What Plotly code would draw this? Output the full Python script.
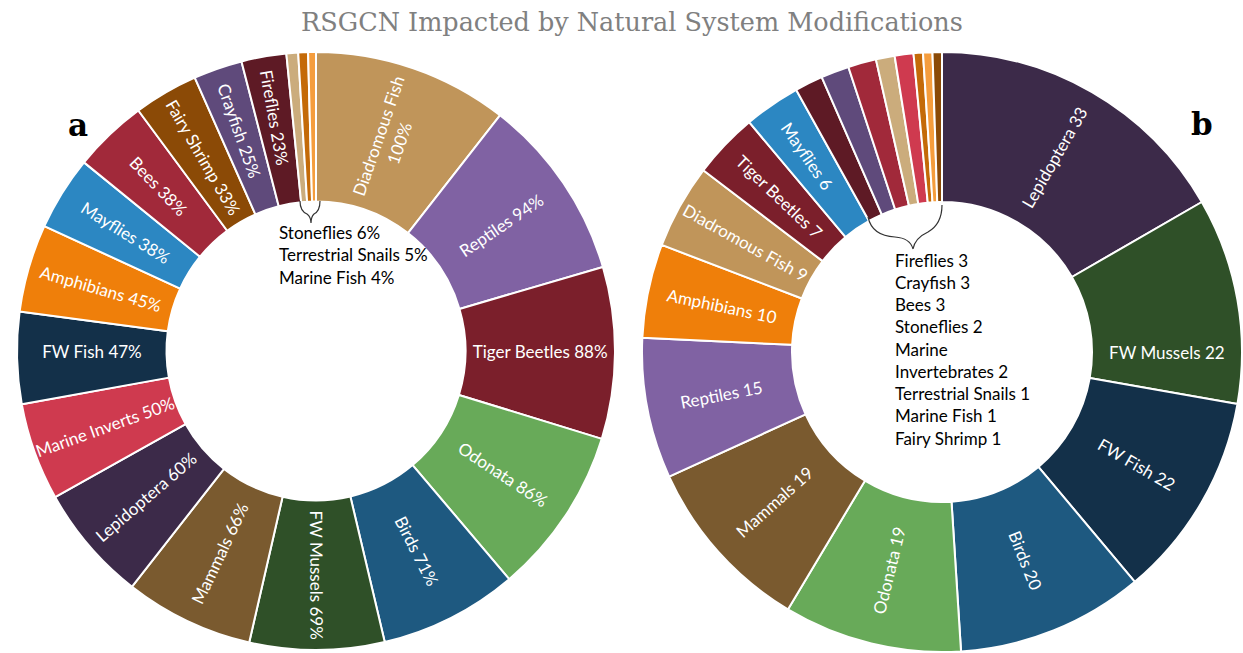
import plotly.graph_objects as go

W, H = 1243, 653

# ---- data ----
left_labels = ["Diadromous Fish", "Reptiles", "Tiger Beetles", "Odonata", "Birds",
               "FW Mussels", "Mammals", "Lepidoptera", "Marine Inverts", "FW Fish",
               "Amphibians", "Mayflies", "Bees", "Fairy Shrimp", "Crayfish",
               "Fireflies", "Stoneflies", "Terrestrial Snails", "Marine Fish"]
left_values = [100, 94, 88, 86, 71, 69, 66, 60, 50, 47, 45, 38, 38, 33, 25, 23, 6, 5, 4]

right_labels = ["Lepidoptera", "FW Mussels", "FW Fish", "Birds", "Odonata", "Mammals",
                "Reptiles", "Amphibians", "Diadromous Fish", "Tiger Beetles", "Mayflies",
                "Fireflies", "Crayfish", "Bees", "Stoneflies", "Marine Invertebrates",
                "Terrestrial Snails", "Marine Fish", "Fairy Shrimp"]
right_values = [33, 22, 22, 20, 19, 19, 15, 10, 9, 7, 6, 3, 3, 3, 2, 2, 1, 1, 1]

category_colors = {
    "Diadromous Fish": "#C0955A", "Reptiles": "#8062A3", "Tiger Beetles": "#7B1F2B",
    "Odonata": "#68AA59", "Birds": "#1E5980", "FW Mussels": "#2F5028",
    "Mammals": "#7A5A2F", "Lepidoptera": "#3C2A49", "Marine Inverts": "#CF3A4F",
    "Marine Invertebrates": "#CF3A4F", "FW Fish": "#133049", "Amphibians": "#EF7F0A",
    "Mayflies": "#2C87C2", "Bees": "#A1293A", "Fairy Shrimp": "#8B4A06",
    "Crayfish": "#5F4A7B", "Fireflies": "#5E1A25", "Stoneflies": "#CBAC7C",
    "Terrestrial Snails": "#C46A08", "Marine Fish": "#F59D3D",
}

left_label_min = 23   # slices at or above this value carry an inside label
right_label_min = 6

# ---- derived text ----
def left_slice_text(n, v):
    if v < left_label_min:
        return ""
    if n == "Diadromous Fish":
        return f"{n}<br>{v}%"
    return f"{n} {v}%"

left_text = [left_slice_text(n, v) for n, v in zip(left_labels, left_values)]
right_text = [f"{n} {v}" if v >= right_label_min else "" for n, v in zip(right_labels, right_values)]

left_note = [f"{n} {v}%" for n, v in zip(left_labels, left_values) if v < left_label_min]
right_note = []
for n, v in zip(right_labels, right_values):
    if v < right_label_min:
        if n == "Marine Invertebrates":
            right_note += ["Marine", f"Invertebrates {v}"]
        else:
            right_note.append(f"{n} {v}")

FONT = "Lato, 'Open Sans', sans-serif"

def dom(cx, cy, r):
    return dict(x=[(cx - r) / W, (cx + r) / W],
                y=[(H - cy - r) / H, (H - cy + r) / H])

fig = go.Figure()
fig.add_trace(go.Pie(
    labels=left_labels, values=left_values, text=left_text, textinfo="text",
    sort=False, direction="clockwise", rotation=0, hole=0.5,
    marker=dict(colors=[category_colors[n] for n in left_labels],
                line=dict(color="white", width=2)),
    insidetextorientation="radial", textposition="inside",
    insidetextfont=dict(color="white", size=17, family=FONT),
    domain=dom(316, 351, 299), showlegend=False, name="a"))
fig.add_trace(go.Pie(
    labels=right_labels, values=right_values, text=right_text, textinfo="text",
    sort=False, direction="clockwise", rotation=0, hole=0.5,
    marker=dict(colors=[category_colors[n] for n in right_labels],
                line=dict(color="white", width=2)),
    insidetextorientation="radial", textposition="inside",
    insidetextfont=dict(color="white", size=17, family=FONT),
    domain=dom(942, 352, 300), showlegend=False, name="b"))

annotations = []
def px_ann(text, x, y, size, xanchor="left", family=FONT, color="black"):
    annotations.append(dict(text=text, x=x / W, y=1 - y / H, xref="paper", yref="paper",
                            xanchor=xanchor, yanchor="middle", showarrow=False,
                            font=dict(size=size, family=family, color=color)))

for i, line in enumerate(left_note):
    px_ann(line, 277, 232 + i * 22.5, 17)
for i, line in enumerate(right_note):
    px_ann(line, 893, 260 + i * 22.25, 17)

px_ann("<b>a</b>", 78, 125, 31, xanchor="center", family="'DejaVu Serif', serif")
px_ann("<b>b</b>", 1202, 124, 31, xanchor="center", family="'DejaVu Serif', serif")

def P(x, y):
    return f"{x / W:.5f},{1 - y / H:.5f}"

left_brace = (f"M{P(300, 201)} Q{P(300, 211)} {P(307, 214)} Q{P(311, 217)} {P(311, 223)} "
              f"M{P(320, 201)} Q{P(320, 211)} {P(314, 214)} Q{P(311, 217)} {P(311, 223)}")
right_brace = (f"M{P(868, 217)} Q{P(872, 236)} {P(895, 237)} Q{P(910, 238)} {P(913, 249)} "
               f"M{P(942, 205)} Q{P(942, 224)} {P(928, 232)} Q{P(915, 238)} {P(913, 249)}")

shapes = [dict(type="path", path=left_brace, xref="paper", yref="paper",
               line=dict(color="#333333", width=1.2)),
          dict(type="path", path=right_brace, xref="paper", yref="paper",
               line=dict(color="#333333", width=1.2))]

fig.update_layout(
    width=W, height=H, margin=dict(l=0, r=0, t=0, b=0),
    paper_bgcolor="white", plot_bgcolor="white",
    title=dict(text="RSGCN Impacted by Natural System Modifications",
               x=632 / W, xanchor="center", y=1 - 22 / H, yanchor="middle",
               yref="container", font=dict(family="'DejaVu Serif', serif", size=25.5, color="#808080")),
    annotations=annotations, shapes=shapes,
)

fig.write_html("out.html")
